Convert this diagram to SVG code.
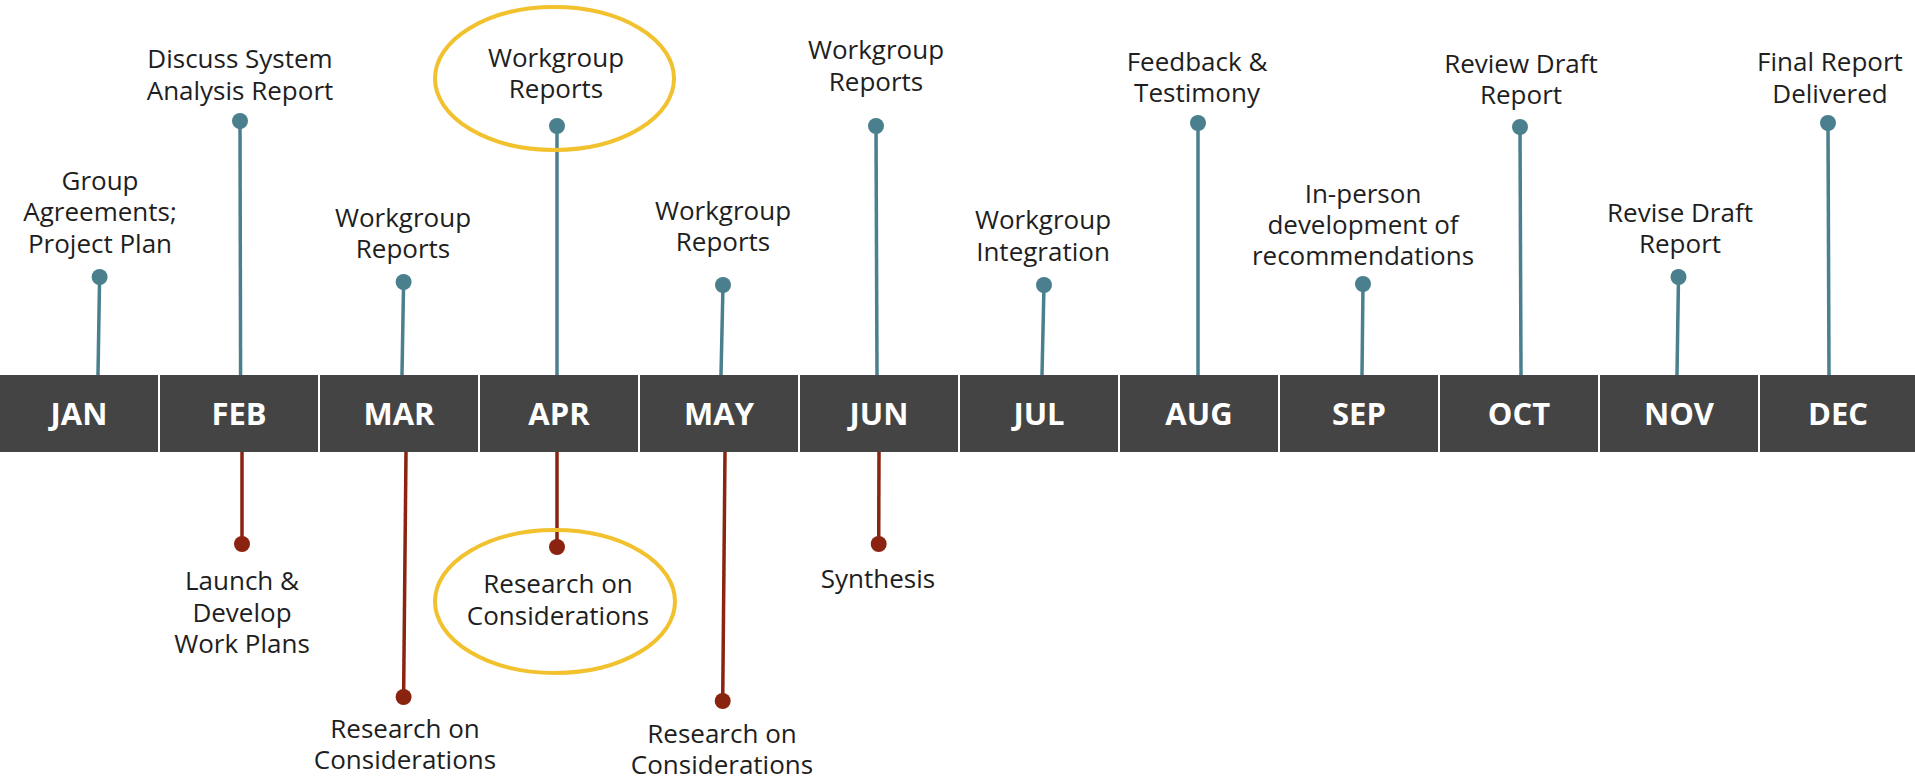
<svg xmlns="http://www.w3.org/2000/svg" width="1915" height="779" viewBox="0 0 1915 779">
<style>
.cell{fill:#444444}
.mon{font-family:"Open Sans","Liberation Sans",sans-serif;font-weight:700;font-size:31px;fill:#ffffff;text-anchor:middle}
.lbl{font-family:"Open Sans","Liberation Sans",sans-serif;font-size:26px;fill:#1e1e1e;text-anchor:middle}
.up{stroke:#4a7f8d;stroke-width:3.5;fill:none}
.dn{stroke:#8a2310;stroke-width:3.5;fill:none}
.dotu{fill:#4a7f8d}
.dotd{fill:#8a2310}
.hl{fill:none;stroke:#f2c12e;stroke-width:4}
</style>
<rect width="1915" height="779" fill="#ffffff"/>
<g id="bar">
<g id="m-jan"><rect class="cell" x="0" y="375" width="158" height="77"/><text class="mon" x="79" y="425">JAN</text></g>
<g id="m-feb"><rect class="cell" x="160" y="375" width="158" height="77"/><text class="mon" x="239" y="425">FEB</text></g>
<g id="m-mar"><rect class="cell" x="320" y="375" width="158" height="77"/><text class="mon" x="399" y="425">MAR</text></g>
<g id="m-apr"><rect class="cell" x="480" y="375" width="158" height="77"/><text class="mon" x="559" y="425">APR</text></g>
<g id="m-may"><rect class="cell" x="640" y="375" width="158" height="77"/><text class="mon" x="719" y="425">MAY</text></g>
<g id="m-jun"><rect class="cell" x="800" y="375" width="158" height="77"/><text class="mon" x="879" y="425">JUN</text></g>
<g id="m-jul"><rect class="cell" x="960" y="375" width="158" height="77"/><text class="mon" x="1039" y="425">JUL</text></g>
<g id="m-aug"><rect class="cell" x="1120" y="375" width="158" height="77"/><text class="mon" x="1199" y="425">AUG</text></g>
<g id="m-sep"><rect class="cell" x="1280" y="375" width="158" height="77"/><text class="mon" x="1359" y="425">SEP</text></g>
<g id="m-oct"><rect class="cell" x="1440" y="375" width="158" height="77"/><text class="mon" x="1519" y="425">OCT</text></g>
<g id="m-nov"><rect class="cell" x="1600" y="375" width="158" height="77"/><text class="mon" x="1679" y="425">NOV</text></g>
<g id="m-dec"><rect class="cell" x="1760" y="375" width="155" height="77"/><text class="mon" x="1838" y="425">DEC</text></g>
</g>
<g id="connectors">
<line class="up" x1="98" y1="375" x2="99.6" y2="277"/>
<line class="up" x1="240.6" y1="375" x2="240" y2="121"/>
<line class="up" x1="402" y1="375" x2="403.6" y2="282"/>
<line class="up" x1="557" y1="375" x2="557" y2="126"/>
<line class="up" x1="721" y1="375" x2="723" y2="285"/>
<line class="up" x1="877" y1="375" x2="876" y2="126"/>
<line class="up" x1="1042" y1="375" x2="1044" y2="285"/>
<line class="up" x1="1198" y1="375" x2="1198" y2="123"/>
<line class="up" x1="1362" y1="375" x2="1363" y2="284"/>
<line class="up" x1="1521" y1="375" x2="1520" y2="127"/>
<line class="up" x1="1677" y1="375" x2="1678.5" y2="277"/>
<line class="up" x1="1829" y1="375" x2="1828" y2="123"/>
<line class="dn" x1="242" y1="452" x2="242" y2="544"/>
<line class="dn" x1="406" y1="452" x2="403.6" y2="697"/>
<line class="dn" x1="557" y1="452" x2="557" y2="547"/>
<line class="dn" x1="725" y1="452" x2="722.7" y2="701"/>
<line class="dn" x1="879" y1="452" x2="878.7" y2="544"/>
</g>
<g id="n-jan"><circle class="dotu" cx="99.6" cy="277" r="8"/><text class="lbl" x="100"><tspan x="100" y="190">Group</tspan><tspan x="100" y="221">Agreements;</tspan><tspan x="100" y="253">Project Plan</tspan></text></g>
<g id="n-feb"><circle class="dotu" cx="240" cy="121" r="8"/><text class="lbl"><tspan x="240" y="68">Discuss System</tspan><tspan x="240" y="100">Analysis Report</tspan></text></g>
<g id="n-mar"><circle class="dotu" cx="403.6" cy="282" r="8"/><text class="lbl"><tspan x="403" y="227">Workgroup</tspan><tspan x="403" y="258">Reports</tspan></text></g>
<g id="n-apr"><ellipse class="hl" cx="554.5" cy="78.5" rx="119.5" ry="71.5"/><circle class="dotu" cx="557" cy="126" r="8"/><text class="lbl"><tspan x="556" y="67">Workgroup</tspan><tspan x="556" y="98">Reports</tspan></text></g>
<g id="n-may"><circle class="dotu" cx="723" cy="285" r="8"/><text class="lbl"><tspan x="723" y="220">Workgroup</tspan><tspan x="723" y="251">Reports</tspan></text></g>
<g id="n-jun"><circle class="dotu" cx="876" cy="126" r="8"/><text class="lbl"><tspan x="876" y="59">Workgroup</tspan><tspan x="876" y="91">Reports</tspan></text></g>
<g id="n-jul"><circle class="dotu" cx="1044" cy="285" r="8"/><text class="lbl"><tspan x="1043" y="229">Workgroup</tspan><tspan x="1043" y="261">Integration</tspan></text></g>
<g id="n-aug"><circle class="dotu" cx="1198" cy="123" r="8"/><text class="lbl"><tspan x="1197" y="71">Feedback &amp;</tspan><tspan x="1197" y="102">Testimony</tspan></text></g>
<g id="n-sep"><circle class="dotu" cx="1363" cy="284" r="8"/><text class="lbl"><tspan x="1363" y="203">In-person</tspan><tspan x="1363" y="234">development of</tspan><tspan x="1363" y="265">recommendations</tspan></text></g>
<g id="n-oct"><circle class="dotu" cx="1520" cy="127" r="8"/><text class="lbl"><tspan x="1521" y="73">Review Draft</tspan><tspan x="1521" y="104">Report</tspan></text></g>
<g id="n-nov"><circle class="dotu" cx="1678.5" cy="277" r="8"/><text class="lbl"><tspan x="1680" y="222">Revise Draft</tspan><tspan x="1680" y="253">Report</tspan></text></g>
<g id="n-dec"><circle class="dotu" cx="1828" cy="123" r="8"/><text class="lbl"><tspan x="1830" y="71">Final Report</tspan><tspan x="1830" y="103">Delivered</tspan></text></g>
<g id="n-feb-b"><circle class="dotd" cx="242" cy="544" r="8"/><text class="lbl"><tspan x="242" y="590">Launch &amp;</tspan><tspan x="242" y="622">Develop</tspan><tspan x="242" y="653">Work Plans</tspan></text></g>
<g id="n-mar-b"><circle class="dotd" cx="403.6" cy="697" r="8"/><text class="lbl"><tspan x="405" y="738">Research on</tspan><tspan x="405" y="769">Considerations</tspan></text></g>
<g id="n-apr-b"><ellipse class="hl" cx="555" cy="601.5" rx="120" ry="71.5"/><circle class="dotd" cx="557" cy="547" r="8"/><text class="lbl"><tspan x="558" y="593">Research on</tspan><tspan x="558" y="625">Considerations</tspan></text></g>
<g id="n-may-b"><circle class="dotd" cx="722.7" cy="701" r="8"/><text class="lbl"><tspan x="722" y="743">Research on</tspan><tspan x="722" y="774">Considerations</tspan></text></g>
<g id="n-jun-b"><circle class="dotd" cx="878.7" cy="544" r="8"/><text class="lbl"><tspan x="878" y="588">Synthesis</tspan></text></g>
</svg>
